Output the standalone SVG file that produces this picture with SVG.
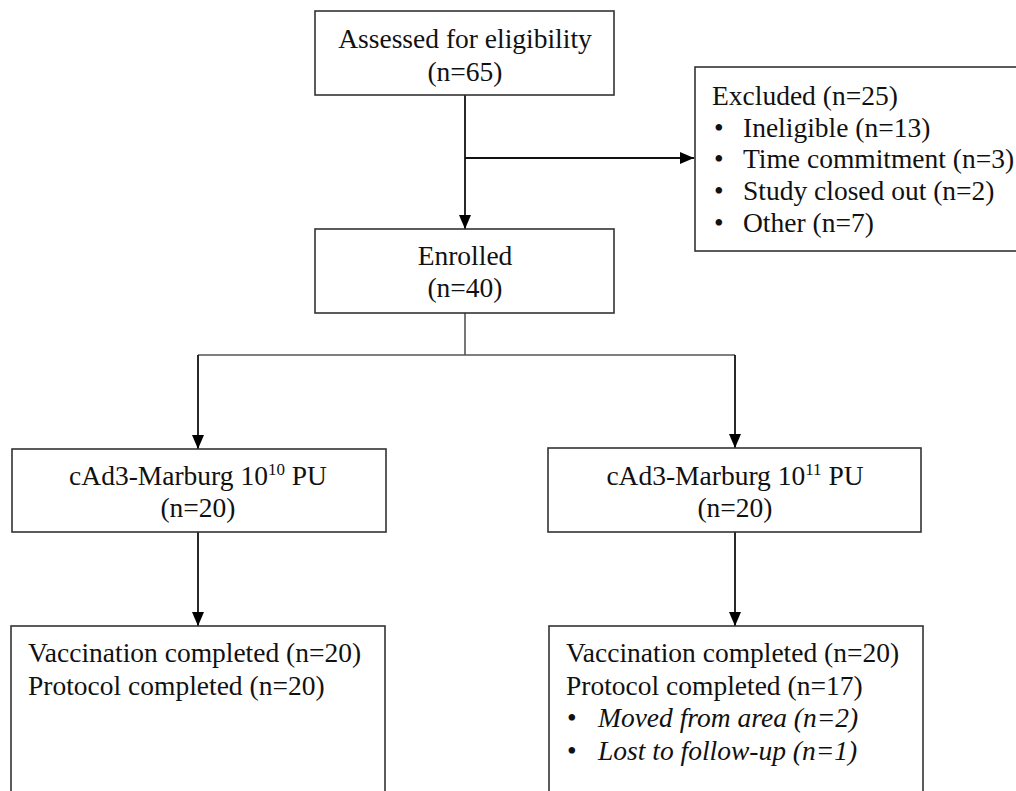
<svg xmlns="http://www.w3.org/2000/svg" width="1016" height="791" viewBox="0 0 1016 791">
<style>
.box{fill:#fff;stroke:#333;stroke-width:1.6}
.t{font-family:"Liberation Serif","Times New Roman",serif;font-size:27.5px;fill:#111}
.c{text-anchor:middle}
.i{font-style:italic}
.ln{fill:none;stroke:#111;stroke-width:1.8}
.lg{fill:none;stroke:#555;stroke-width:1.6}
</style>
<defs>
<marker id="ah" markerWidth="14" markerHeight="14" refX="14" refY="7" orient="auto" markerUnits="userSpaceOnUse" viewBox="0 0 14 14">
<path d="M0,1 L14,7 L0,13 Z" fill="#000"/>
</marker>
</defs>
<rect width="1016" height="791" fill="#fff"/>
<g id="connectors">
<path class="ln" d="M465,95 V229" marker-end="url(#ah)"/>
<path class="ln" d="M465,158 H694" marker-end="url(#ah)"/>
<path class="lg" d="M465,313 V355"/>
<path class="lg" d="M198,355 H735"/>
<path class="ln" d="M198,355 V449" marker-end="url(#ah)"/>
<path class="ln" d="M735,355 V448" marker-end="url(#ah)"/>
<path class="ln" d="M198,532 V626" marker-end="url(#ah)"/>
<path class="ln" d="M735,532 V626" marker-end="url(#ah)"/>
</g>
<g id="assessed">
<rect class="box" x="315" y="11" width="299" height="84"/>
<text class="t c" x="465" y="48">Assessed for eligibility</text>
<text class="t c" x="465" y="81">(n=65)</text>
</g>
<g id="excluded">
<rect class="box" x="695" y="67" width="340" height="184"/>
<text class="t" x="712" y="105">Excluded (n=25)</text>
<text class="t" x="714" y="137">•</text><text class="t" x="743" y="137">Ineligible (n=13)</text>
<text class="t" x="714" y="168">•</text><text class="t" x="743" y="168">Time commitment (n=3)</text>
<text class="t" x="714" y="200">•</text><text class="t" x="743" y="200">Study closed out (n=2)</text>
<text class="t" x="714" y="232">•</text><text class="t" x="743" y="232">Other (n=7)</text>
</g>
<g id="enrolled">
<rect class="box" x="315" y="229" width="299" height="84"/>
<text class="t c" x="465" y="265">Enrolled</text>
<text class="t c" x="465" y="297">(n=40)</text>
</g>
<g id="low-dose">
<rect class="box" x="12" y="449" width="374" height="83"/>
<text class="t c" x="198" y="485">cAd3-Marburg 10<tspan font-size="17" dy="-10">10</tspan><tspan dy="10"> PU</tspan></text>
<text class="t c" x="198" y="517">(n=20)</text>
</g>
<g id="high-dose">
<rect class="box" x="548" y="448" width="373" height="84"/>
<text class="t c" x="735" y="485">cAd3-Marburg 10<tspan font-size="17" dy="-10">11</tspan><tspan dy="10"> PU</tspan></text>
<text class="t c" x="735" y="517">(n=20)</text>
</g>
<g id="low-outcome">
<rect class="box" x="11" y="626" width="374" height="200"/>
<text class="t" x="28" y="662">Vaccination completed (n=20)</text>
<text class="t" x="28" y="695">Protocol completed (n=20)</text>
</g>
<g id="high-outcome">
<rect class="box" x="549" y="626" width="374" height="200"/>
<text class="t" x="566" y="662">Vaccination completed (n=20)</text>
<text class="t" x="566" y="695">Protocol completed (n=17)</text>
<text class="t" x="567" y="727">•</text><text class="t i" x="598" y="727">Moved from area (n=2)</text>
<text class="t" x="567" y="760">•</text><text class="t i" x="598" y="760">Lost to follow-up (n=1)</text>
</g>
</svg>
